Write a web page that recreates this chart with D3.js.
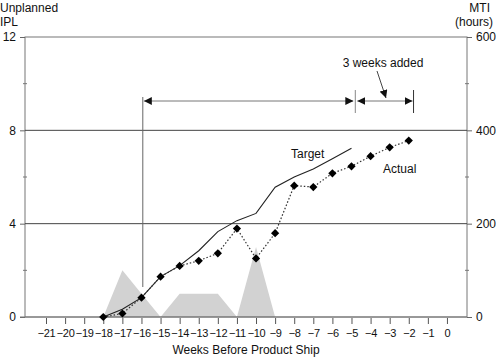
<!DOCTYPE html>
<html>
<head>
<meta charset="utf-8">
<script src="https://cdn.jsdelivr.net/npm/d3@7"></script>
<style>
  body { margin: 0; background: #fff; }
  svg { font-family: "Liberation Sans", Arial, sans-serif; }
</style>
</head>
<body>
<svg id="chart" width="496" height="358"></svg>
<script>
const weeks = [-21, -20, -19, -18, -17, -16, -15, -14, -13, -12, -11, -10, -9, -8, -7, -6, -5, -4, -3, -2, -1, 0];

const actualWeeks = [-18, -17, -16, -15, -14, -13, -12, -11, -10, -9, -8, -7, -6, -5, -4, -3, -2];
const actualIPL = [0, 0.15, 0.83, 1.73, 2.19, 2.41, 2.73, 3.79, 2.51, 3.59, 5.63, 5.57, 6.16, 6.46, 6.89, 7.27, 7.56];

const targetWeeks = [-18, -17, -16, -15, -14, -13, -12, -11, -10, -9, -8, -7, -6, -5];
const targetIPL = [0, 0.33, 0.83, 1.73, 2.2, 2.84, 3.66, 4.13, 4.44, 5.56, 6.0, 6.34, 6.78, 7.23];

const mtiWeeks = [-18, -17, -16, -15, -14, -13, -12, -11, -10, -9];
const mtiHours = [0, 100, 50, 0, 50, 50, 50, 0, 150, 0];

const leftTicks = [0, 4, 8, 12];
const rightTicks = [0, 200, 400, 600];

// annotation spans (weeks)
const spanStart = -15.93, spanMid = -4.8, spanEnd = -1.75;

const svg = d3.select("#chart");
const plotLeft = 25, plotRight = 467, plotTop = 37, plotBottom = 317;

const x = d3.scaleLinear().domain([-22.1, 1.05]).range([plotLeft, plotRight]);
const y = d3.scaleLinear().domain([0, 12]).range([plotBottom, plotTop]);
const yR = d3.scaleLinear().domain([0, 600]).range([plotBottom, plotTop]);

const defs = svg.append("defs");
defs.append("marker")
  .attr("id", "head")
  .attr("viewBox", "0 0 10 10")
  .attr("refX", 10)
  .attr("refY", 5)
  .attr("markerWidth", 8)
  .attr("markerHeight", 8)
  .attr("markerUnits", "userSpaceOnUse")
  .attr("orient", "auto-start-reverse")
  .append("path")
  .attr("d", "M0,0L10,5L0,10Z")
  .attr("fill", "#111");

// MTI gray areas
const area = d3.area()
  .x((d, i) => x(mtiWeeks[i]))
  .y0(plotBottom)
  .y1(d => yR(d));

svg.append("path")
  .attr("d", area(mtiHours))
  .attr("fill", "#d2d2d2");

// frame
svg.append("rect")
  .attr("x", plotLeft)
  .attr("y", plotTop)
  .attr("width", plotRight - plotLeft)
  .attr("height", plotBottom - plotTop)
  .attr("fill", "none")
  .attr("stroke", "#777")
  .attr("stroke-width", 1);

// gridlines at 4, 8
svg.selectAll(".grid")
  .data([4, 8])
  .enter()
  .append("line")
  .attr("x1", plotLeft)
  .attr("x2", plotRight)
  .attr("y1", d => y(d))
  .attr("y2", d => y(d))
  .attr("stroke", "#444")
  .attr("stroke-width", 1);

// left axis
const leftAxis = svg.append("g").attr("transform", "translate(" + plotLeft + ",0)")
  .call(d3.axisLeft(y).tickValues(leftTicks).tickSize(5).tickPadding(4));
leftAxis.select(".domain").remove();
leftAxis.selectAll("line").attr("stroke", "#666");
leftAxis.selectAll("text").attr("font-size", "12px").attr("fill", "#111");

svg.selectAll(".minorL")
  .data([2, 6, 10])
  .enter()
  .append("line")
  .attr("x1", plotLeft - 2)
  .attr("x2", plotLeft + 2)
  .attr("y1", d => y(d))
  .attr("y2", d => y(d))
  .attr("stroke", "#777");

// right axis
const rightAxis = svg.append("g").attr("transform", "translate(" + plotRight + ",0)")
  .call(d3.axisRight(yR).tickValues(rightTicks).tickSize(5).tickPadding(4));
rightAxis.select(".domain").remove();
rightAxis.selectAll("line").attr("stroke", "#666");
rightAxis.selectAll("text").attr("font-size", "12px").attr("fill", "#111");

svg.selectAll(".minorR")
  .data([100, 300, 500])
  .enter()
  .append("line")
  .attr("x1", plotRight - 2)
  .attr("x2", plotRight + 2)
  .attr("y1", d => yR(d))
  .attr("y2", d => yR(d))
  .attr("stroke", "#777");

// x axis
svg.append("line")
  .attr("x1", plotLeft - 5)
  .attr("x2", plotRight)
  .attr("y1", plotBottom)
  .attr("y2", plotBottom)
  .attr("stroke", "#777");

const xAxis = svg.append("g").attr("transform", "translate(0," + (plotBottom + 1) + ")")
  .call(d3.axisBottom(x).tickValues(weeks).tickSize(6).tickPadding(5));
xAxis.select(".domain").remove();
xAxis.selectAll("line").attr("stroke", "#555");
xAxis.selectAll("text").attr("font-size", "11px").attr("fill", "#111").attr("letter-spacing", "-0.3px");

svg.append("text")
  .attr("x", (plotLeft + plotRight) / 2)
  .attr("y", 354)
  .attr("text-anchor", "middle")
  .attr("font-size", "12px")
  .attr("fill", "#111")
  .text("Weeks Before Product Ship");

// axis titles
svg.append("text").attr("x", 0).attr("y", 12).attr("font-size", "12px").attr("fill", "#111").text("Unplanned");
svg.append("text").attr("x", 0).attr("y", 26).attr("font-size", "12px").attr("fill", "#111").text("IPL");
svg.append("text").attr("x", 490).attr("y", 12).attr("text-anchor", "end").attr("font-size", "12px").attr("fill", "#111").text("MTI");
svg.append("text").attr("x", 493).attr("y", 26).attr("text-anchor", "end").attr("font-size", "12px").attr("fill", "#111").text("(hours)");

// annotations
svg.append("line")
  .attr("x1", x(spanStart)).attr("x2", x(spanStart))
  .attr("y1", 97).attr("y2", 287)
  .attr("stroke", "#666");

svg.append("line")
  .attr("x1", x(spanStart) + 1).attr("x2", x(spanMid) - 2)
  .attr("y1", 101).attr("y2", 101)
  .attr("stroke", "#777")
  .attr("marker-start", "url(#head)")
  .attr("marker-end", "url(#head)");

svg.append("line")
  .attr("x1", x(spanMid) + 2).attr("x2", x(spanEnd) - 1)
  .attr("y1", 101).attr("y2", 101)
  .attr("stroke", "#777")
  .attr("marker-start", "url(#head)")
  .attr("marker-end", "url(#head)");

svg.selectAll(".spanTick")
  .data([spanMid, spanEnd])
  .enter()
  .append("line")
  .attr("x1", d => x(d)).attr("x2", d => x(d))
  .attr("y1", 90).attr("y2", 113)
  .attr("stroke", d => d === spanMid ? "#888" : "#333");

svg.append("text")
  .attr("x", 383)
  .attr("y", 67)
  .attr("text-anchor", "middle")
  .attr("font-size", "12px")
  .attr("fill", "#111")
  .text("3 weeks added");

svg.append("line")
  .attr("x1", 377).attr("y1", 71)
  .attr("x2", 386).attr("y2", 98)
  .attr("stroke", "#444")
  .attr("marker-end", "url(#head)");

// target line
const targetLine = d3.line()
  .x((d, i) => x(targetWeeks[i]))
  .y(d => y(d));

svg.append("path")
  .attr("d", targetLine(targetIPL))
  .attr("fill", "none")
  .attr("stroke", "#222")
  .attr("stroke-width", 1.1);

// actual line
const actualLine = d3.line()
  .x((d, i) => x(actualWeeks[i]))
  .y(d => y(d));

svg.append("path")
  .attr("d", actualLine(actualIPL))
  .attr("fill", "none")
  .attr("stroke", "#333")
  .attr("stroke-width", 1.2)
  .attr("stroke-dasharray", "1.5,2");

svg.selectAll(".dot")
  .data(actualIPL)
  .enter()
  .append("path")
  .attr("d", d3.symbol(d3.symbolSquare, 34))
  .attr("transform", (d, i) => "translate(" + x(actualWeeks[i]) + "," + y(d) + ") rotate(45)")
  .attr("fill", "#000");

svg.append("text").attr("x", 291).attr("y", 158).attr("font-size", "12px").attr("fill", "#111").text("Target");
svg.append("text").attr("x", 383).attr("y", 173).attr("font-size", "12px").attr("fill", "#111").text("Actual");
</script>
</body>
</html>
